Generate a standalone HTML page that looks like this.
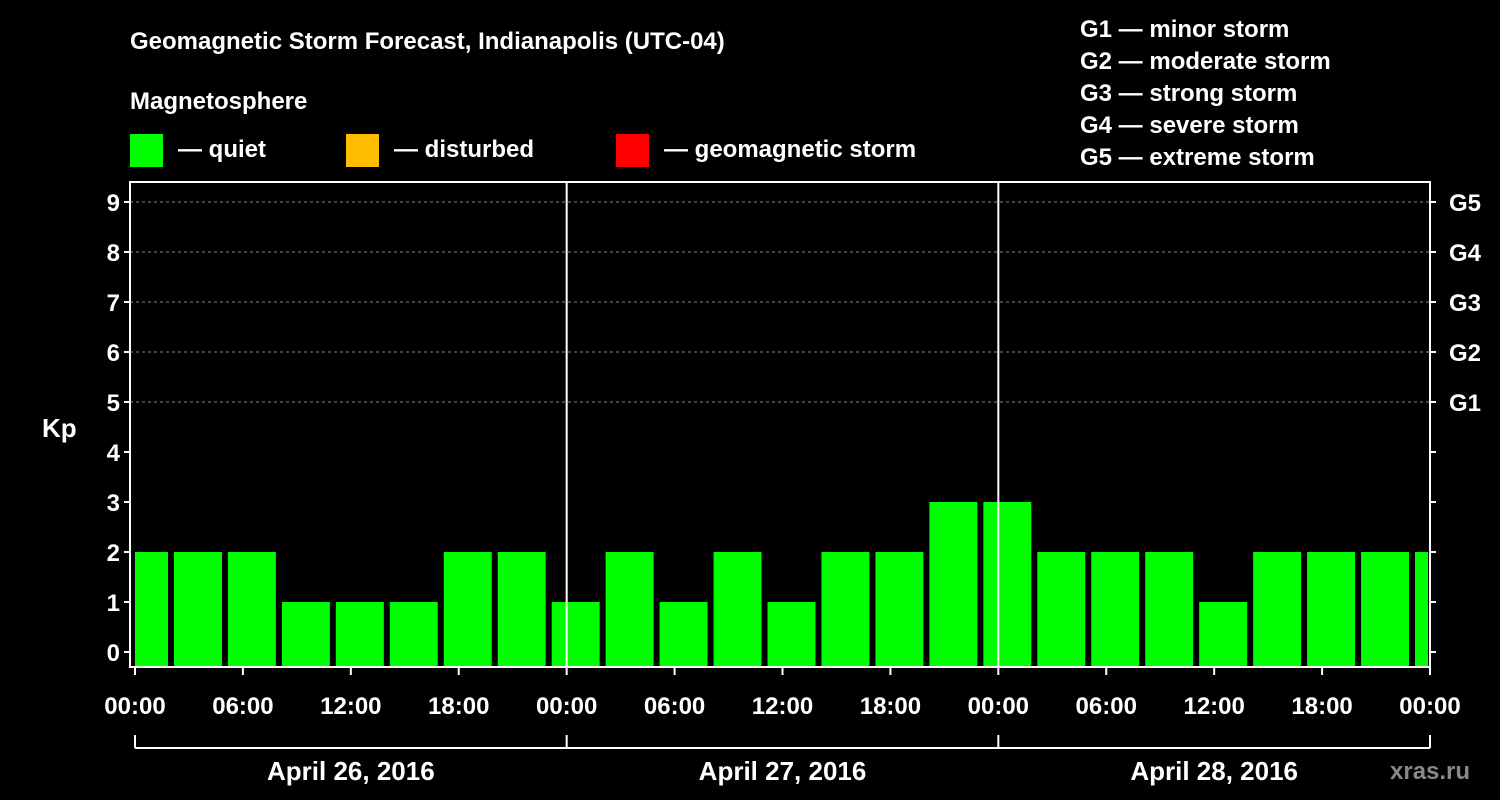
<!DOCTYPE html>
<html><head><meta charset="utf-8"><style>
html,body{margin:0;padding:0;background:#000;}
svg{display:block;font-family:"Liberation Sans",Arial,sans-serif;font-weight:bold;}
</style></head><body>
<svg width="1500" height="800" viewBox="0 0 1500 800">
<rect width="1500" height="800" fill="#000"/>
<text x="130" y="49" fill="#fff" font-size="24">Geomagnetic Storm Forecast, Indianapolis (UTC-04)</text>
<text x="130" y="109" fill="#fff" font-size="24">Magnetosphere</text>
<g><rect x="130" y="134" width="33" height="33" fill="#00ff00"/><text x="178" y="157" fill="#fff" font-size="24">— quiet</text></g>
<g><rect x="346" y="134" width="33" height="33" fill="#ffbf00"/><text x="394" y="157" fill="#fff" font-size="24">— disturbed</text></g>
<g><rect x="616" y="134" width="33" height="33" fill="#ff0000"/><text x="664" y="157" fill="#fff" font-size="24">— geomagnetic storm</text></g>
<g fill="#fff" font-size="24">
<text x="1080" y="37">G1 — minor storm</text>
<text x="1080" y="69">G2 — moderate storm</text>
<text x="1080" y="101">G3 — strong storm</text>
<text x="1080" y="133">G4 — severe storm</text>
<text x="1080" y="165">G5 — extreme storm</text>
</g>
<text x="42" y="437" fill="#fff" font-size="26">Kp</text>
<text x="1390" y="779" fill="#888" font-size="24">xras.ru</text>
<g id="plot"></g>
</svg>
<script>
const kpValues=[2,2,2,1,1,1,2,2,1,2,1,2,1,2,2,3,3,2,2,2,1,2,2,2,2];
const yTicks=[0,1,2,3,4,5,6,7,8,9];
const gLabels=["G1","G2","G3","G4","G5"];
const xTickLabels=["00:00","06:00","12:00","18:00","00:00","06:00","12:00","18:00","00:00","06:00","12:00","18:00","00:00"];
const dayLabels=["April 26, 2016","April 27, 2016","April 28, 2016"];
const NS="http://www.w3.org/2000/svg";
const L=130,R=1430,T=182,B=667,X0=135,X1=1430;
const hourX=h=>X0+(X1-X0)*h/72;
const yK=v=>652-v*50;
const g=document.getElementById('plot');
function mk(tag,a,parent){const e=document.createElementNS(NS,tag);for(const k in a)e.setAttribute(k,a[k]);(parent||g).appendChild(e);return e;}
// clip
const defs=mk('defs',{});const cp=mk('clipPath',{id:'pc'},defs);mk('rect',{x:L+5,y:T,width:R-L-7,height:B-T},cp);
// gridlines
yTicks.forEach(v=>{if(v>=5){const l=mk('line',{x1:L,x2:R,y1:yK(v),y2:yK(v),stroke:'#888','stroke-dasharray':'3,3','stroke-width':1});

}});
// bars
const bg=mk('g',{'clip-path':'url(#pc)'});
kpValues.forEach((v,i)=>{const h0=-1+3*i;const x=hourX(h0)+3,w=hourX(h0+3)-hourX(h0)-6;
const c=v>=5?'#ff0000':(v>=4?'#ffbf00':'#00ff00');
const r=mk('rect',{x:x,y:yK(v),width:w,height:B-yK(v),fill:c},bg);

});
// day separators
[24,48].forEach(h=>{const l=mk('line',{x1:hourX(h),x2:hourX(h),y1:T,y2:B,stroke:'#fff','stroke-width':2});

});
// frame
const fr=mk('rect',{x:L,y:T,width:R-L,height:B-T,fill:'none',stroke:'#fff','stroke-width':2});


// y ticks
yTicks.forEach(v=>{mk('line',{x1:L-6,x2:L,y1:yK(v),y2:yK(v),stroke:'#fff','stroke-width':2});
mk('line',{x1:R,x2:R+6,y1:yK(v),y2:yK(v),stroke:'#fff','stroke-width':2});
const t=mk('text',{x:L-10,y:yK(v)+9,fill:'#fff','font-size':24,'text-anchor':'end'});t.textContent=v;

});
gLabels.forEach((s,i)=>{const t=mk('text',{x:1449,y:yK(5+i)+9,fill:'#fff','font-size':24});t.textContent=s;

});
// x ticks
xTickLabels.forEach((s,i)=>{const x=hourX(i*6);mk('line',{x1:x,x2:x,y1:B,y2:B+8,stroke:'#fff','stroke-width':2});
const t=mk('text',{x:x,y:714,fill:'#fff','font-size':24,'text-anchor':'middle'});t.textContent=s;

});
// day bracket
mk('line',{x1:hourX(0),x2:hourX(72),y1:748,y2:748,stroke:'#fff','stroke-width':2});
[0,24,48,72].forEach(h=>mk('line',{x1:hourX(h),x2:hourX(h),y1:735,y2:748,stroke:'#fff','stroke-width':2}));
dayLabels.forEach((s,i)=>{const t=mk('text',{x:hourX(i*24+12),y:780,fill:'#fff','font-size':26,'text-anchor':'middle'});t.textContent=s;

});
</script>
</body></html>
